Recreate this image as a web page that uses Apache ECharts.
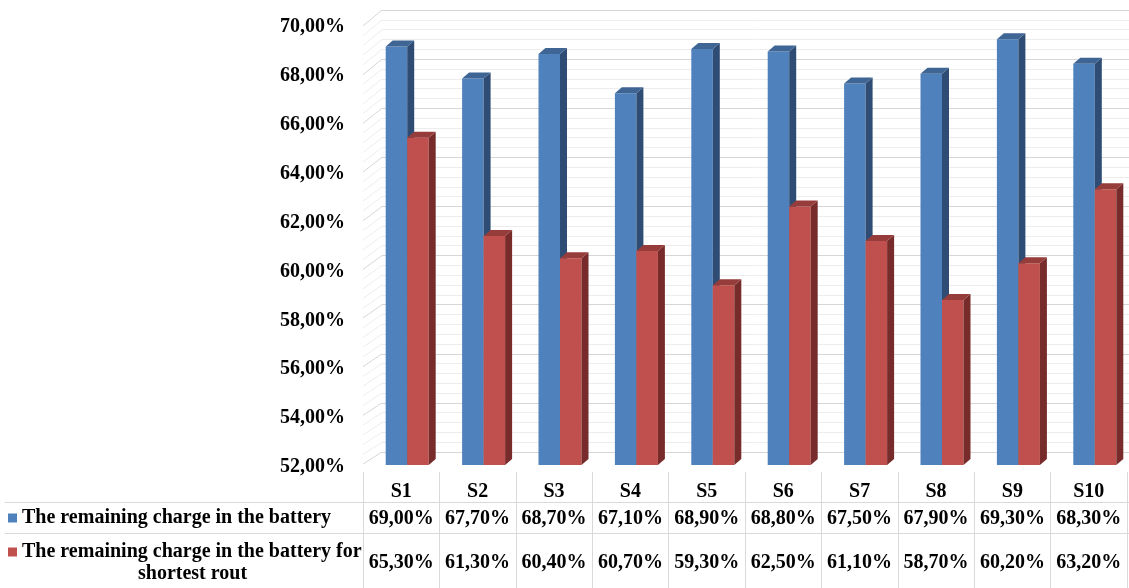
<!DOCTYPE html>
<html>
<head>
    <meta charset="utf-8" />
    <title></title>
    <script src="https://cdn.jsdelivr.net/npm/echarts@6.0.0/dist/echarts.min.js"></script>
    <style>
        * {
            margin: 0;
            padding: 0;
            box-sizing: border-box;
        }

        body {
            background: #fff;
        }

        #chart {
            width: 1129px;
            height: 588px;
        }
    </style>
</head>
<body>
    <div id="chart"></div>

    <script>
        // data
        const categories = ['S1', 'S2', 'S3', 'S4', 'S5', 'S6', 'S7', 'S8', 'S9', 'S10'];
        const remaining = [69.0, 67.7, 68.7, 67.1, 68.9, 68.8, 67.5, 67.9, 69.3, 68.3];
        const shortest = [65.3, 61.3, 60.4, 60.7, 59.3, 62.5, 61.1, 58.7, 60.2, 63.2];
        const seriesNames = ['The remaining charge in the battery', 'The remaining charge in the battery for shortest rout'];
        const yMin = 52, yMax = 70, yStep = 2;

        const font = "'Liberation Serif', 'DejaVu Serif', serif";
        const fmt = v => v.toFixed(2).replace('.', ',') + '%';

        const chart = echarts.init(document.getElementById('chart'));

        // 3D column: front face, top face, side face
        function bar3d(slot, colors) {
            return function (params, api) {
                const i = api.value(0);
                const v = api.value(1);
                const top = api.coord([i, v]);
                const base = api.coord([i, yMin]);
                const w = 21.5, dx = 7, dy = 6, shift = 6;
                const xl = top[0] + shift + slot * w;
                const xr = xl + w;
                const y1 = top[1], y0 = base[1];
                return {
                    type: 'group',
                    children: [
                        { type: 'rect', shape: { x: xl, y: y1, width: w, height: y0 - y1 }, style: { fill: colors[0] } },
                        { type: 'polygon', shape: { points: [[xr, y1], [xr + dx, y1 - dy], [xr + dx, y0 - dy], [xr, y0]] }, style: { fill: colors[2] } },
                        { type: 'polygon', shape: { points: [[xl, y1], [xl + dx, y1 - dy], [xr + dx, y1 - dy], [xr, y1]] }, style: { fill: colors[1] } }
                    ]
                };
            };
        }

        // side wall diagonals, drawn from the back wall toward the front
        function sideWall(params, api) {
            const children = [];
            const half = api.size([1, 0])[0] / 2;
            const n = Math.round((yMax - yMin) / 0.4);
            for (let k = 0; k <= n; k++) {
                const v = yMin + k * 0.4;
                const p = api.coord([0, v]);
                const x = p[0] - half;
                const major = k % 5 === 0;
                const dy = 12 + 4 * k / n;
                children.push({
                    type: 'line',
                    shape: { x1: x, y1: p[1], x2: x - 19, y2: p[1] + dy },
                    style: { stroke: major ? '#d6d6d6' : '#ededed', lineWidth: 1 }
                });
            }
            return { type: 'group', children: children };
        }

        const labelStyle = { color: '#000', fontFamily: font, fontWeight: 'bold', fontSize: 20 };

        const option = {
            animation: false,
            grid: [
                { left: 363, top: 22, width: 764, height: 443 },
                { left: 382, top: 10, width: 764, height: 442 },
                { left: 5, top: 0, right: 0, height: 502 },
                { left: 363, top: 27, width: 764, height: 440 }
            ],
            xAxis: [
                {
                    gridIndex: 0, type: 'category', position: 'bottom', data: categories,
                    axisLine: { show: false }, axisTick: { show: false },
                    axisLabel: Object.assign({ margin: 17, interval: 0 }, labelStyle)
                },
                {
                    gridIndex: 0, type: 'category', position: 'bottom', offset: 36, data: remaining.map(fmt),
                    axisLine: { show: false }, axisTick: { show: false },
                    axisLabel: Object.assign({ margin: 8, interval: 0 }, labelStyle)
                },
                {
                    gridIndex: 0, type: 'category', position: 'bottom', offset: 80, data: shortest.map(fmt),
                    axisLine: { show: false }, axisTick: { show: false },
                    axisLabel: Object.assign({ margin: 8, interval: 0 }, labelStyle)
                },
                {
                    gridIndex: 0, type: 'category', position: 'bottom', offset: 7, data: categories,
                    axisLine: { show: false },
                    axisTick: { show: true, interval: 0, length: 116, lineStyle: { color: '#d9d9d9' } },
                    axisLabel: { show: false }
                },
                { gridIndex: 1, type: 'category', data: categories, show: false },
                {
                    gridIndex: 2, type: 'value', position: 'bottom',
                    axisLine: { show: true, lineStyle: { color: '#d9d9d9' } },
                    axisTick: { show: false }, axisLabel: { show: false }, splitLine: { show: false }
                },
                {
                    gridIndex: 2, type: 'value', position: 'bottom', offset: 31,
                    axisLine: { show: true, lineStyle: { color: '#d9d9d9' } },
                    axisTick: { show: false }, axisLabel: { show: false }, splitLine: { show: false }
                },
                { gridIndex: 3, type: 'category', data: categories, show: false }
            ],
            yAxis: [
                {
                    gridIndex: 0, type: 'value', min: yMin, max: yMax, interval: yStep, show: false
                },
                {
                    gridIndex: 1, type: 'value', min: yMin, max: yMax, interval: yStep,
                    axisLine: { show: false }, axisTick: { show: false }, axisLabel: { show: false },
                    splitLine: { show: true, lineStyle: { color: '#d6d6d6' } },
                    minorTick: { show: false, splitNumber: 5 },
                    minorSplitLine: { show: true, lineStyle: { color: '#ededed' } }
                },
                { gridIndex: 2, type: 'value', show: false },
                {
                    gridIndex: 3, type: 'value', min: yMin, max: yMax, interval: yStep,
                    axisLine: { show: false }, axisTick: { show: false }, splitLine: { show: false },
                    axisLabel: Object.assign({ margin: 18, formatter: fmt }, labelStyle)
                }
            ],
            legend: [
                {
                    data: [seriesNames[0]], left: 8, top: 508, padding: 0,
                    icon: 'rect', itemWidth: 9, itemHeight: 9, itemGap: 0,
                    textStyle: { color: '#000', fontFamily: font, fontWeight: 'bold', fontSize: 20 }
                },
                {
                    data: [seriesNames[1]], left: 8, top: 542, padding: 0,
                    icon: 'rect', itemWidth: 9, itemHeight: 9, itemGap: 0,
                    formatter: () => 'The remaining charge in the battery for',
                    textStyle: { color: '#000', fontFamily: font, fontWeight: 'bold', fontSize: 20 }
                }
            ],
            graphic: [
                {
                    type: 'text', left: 138, top: 564,
                    style: { text: 'shortest rout', fill: '#000', font: 'bold 20px ' + font }
                }
            ],
            series: [
                {
                    type: 'custom', name: 'wall', silent: true, xAxisIndex: 4, yAxisIndex: 1,
                    data: [[0, yMin]], renderItem: sideWall, z: 1
                },
                {
                    type: 'custom', name: seriesNames[0], xAxisIndex: 0, yAxisIndex: 0,
                    itemStyle: { color: '#4f81bd' },
                    data: remaining.map((v, i) => [i, v]),
                    renderItem: bar3d(-1, ['#4f81bd', '#3e6594', '#2f4d74']), z: 3
                },
                {
                    type: 'custom', name: seriesNames[1], xAxisIndex: 0, yAxisIndex: 0,
                    itemStyle: { color: '#c0504d' },
                    data: shortest.map((v, i) => [i, v]),
                    renderItem: bar3d(0, ['#c0504d', '#963d3b', '#772c2b']), z: 4
                }
            ]
        };

        chart.setOption(option);
    </script>
</body>
</html>
